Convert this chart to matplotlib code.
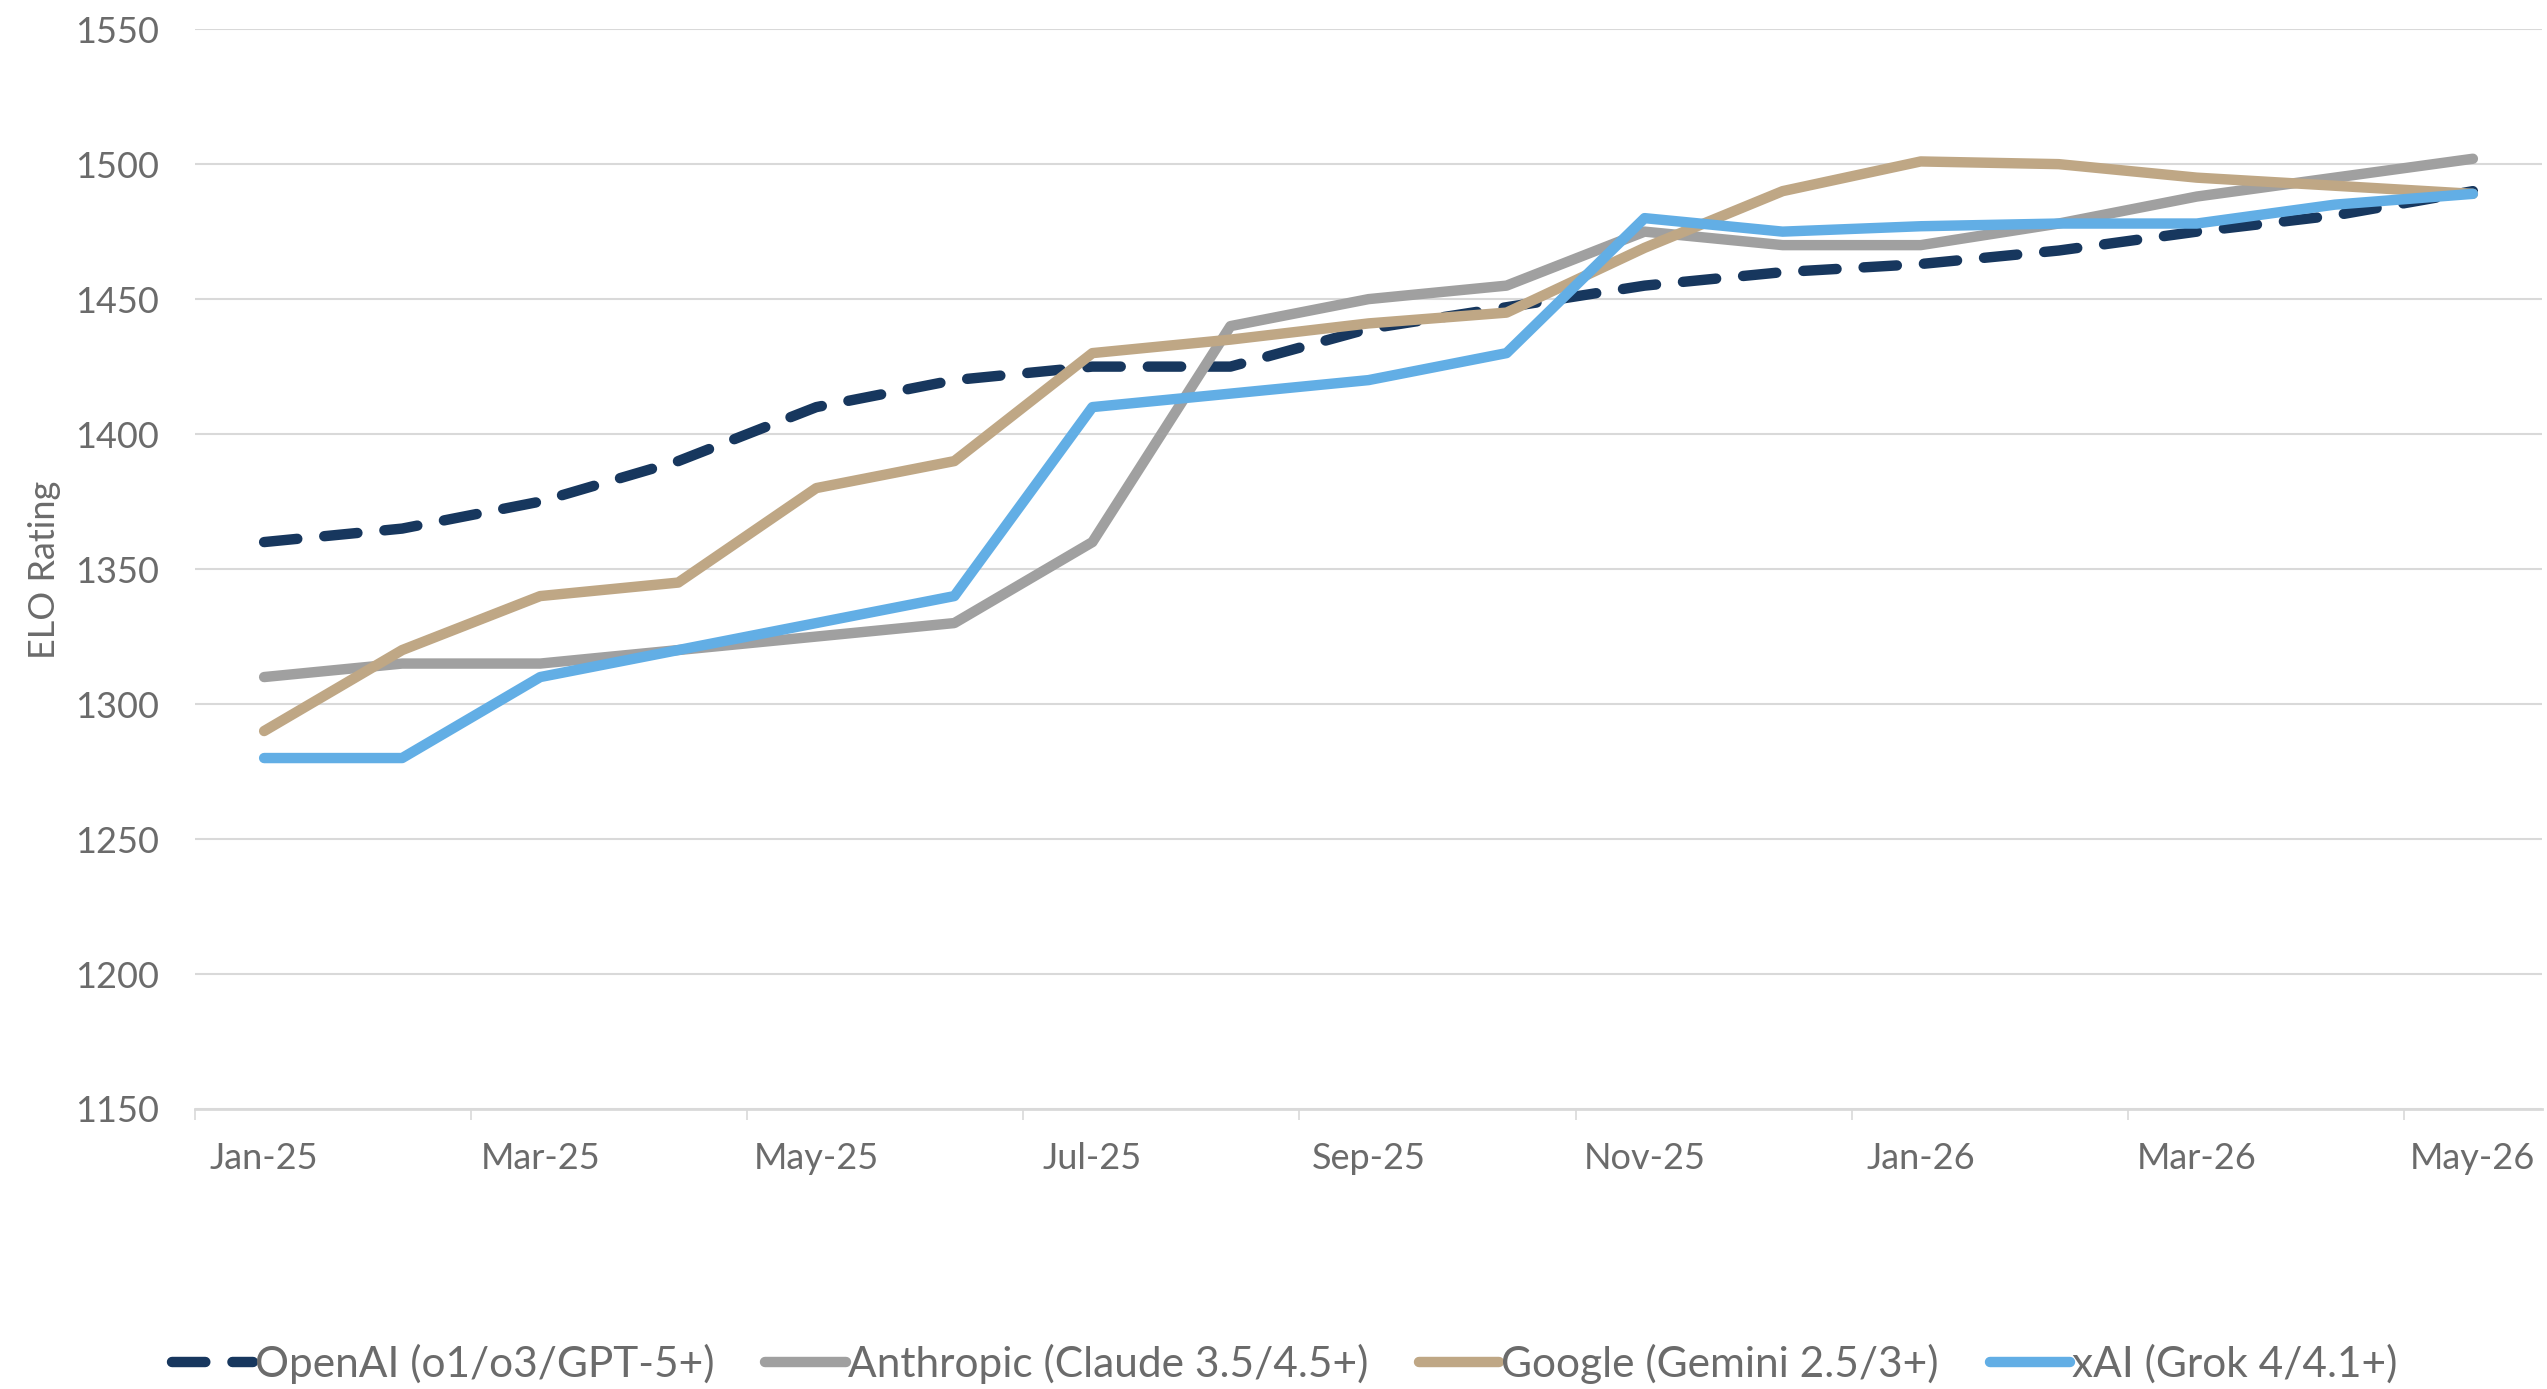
import matplotlib.pyplot as plt
import numpy as np

plt.rcParams['font.family'] = ['Lato', 'DejaVu Sans']

months = ['Jan-25', 'Feb-25', 'Mar-25', 'Apr-25', 'May-25', 'Jun-25', 'Jul-25', 'Aug-25',
          'Sep-25', 'Oct-25', 'Nov-25', 'Dec-25', 'Jan-26', 'Feb-26', 'Mar-26', 'Apr-26', 'May-26']

openai = [1360, 1365, 1375, 1390, 1410, 1420, 1425, 1425, 1439, 1447, 1455, 1460, 1463, 1468, 1475, 1481, 1490]
anthropic = [1310, 1315, 1315, 1320, 1325, 1330, 1360, 1440, 1450, 1455, 1475, 1470, 1470, 1478, 1488, 1495, 1502]
google = [1290, 1320, 1340, 1345, 1380, 1390, 1430, 1435, 1441, 1445, 1469, 1490, 1501, 1500, 1495, 1492, 1489]
xai = [1280, 1280, 1310, 1320, 1330, 1340, 1410, 1415, 1420, 1430, 1480, 1475, 1477, 1478, 1478, 1485, 1489]

series_names = ['OpenAI (o1/o3/GPT-5+)', 'Anthropic (Claude 3.5/4.5+)',
                'Google (Gemini 2.5/3+)', 'xAI (Grok 4/4.1+)']
colors = ['#17375e', '#a0a0a0', '#bfa785', '#62aee5']

text_color = '#6b6b6b'
grid_color = '#d9d9d9'
fs = 26

fig = plt.figure(figsize=(25.47, 13.89), dpi=100)
ax = fig.add_axes([0.0766, 0.2016, 0.9214, 0.7774])

x = np.arange(len(months))
lw = 7.5
ax.plot(x, openai, color=colors[0], lw=lw, linestyle=(0, (3.2, 2.6)),
        dash_capstyle='round', solid_capstyle='round', label=series_names[0], zorder=3)
ax.plot(x, anthropic, color=colors[1], lw=lw, solid_capstyle='round', label=series_names[1], zorder=3)
ax.plot(x, google, color=colors[2], lw=lw, solid_capstyle='round', label=series_names[2], zorder=3)
ax.plot(x, xai, color=colors[3], lw=lw, solid_capstyle='round', label=series_names[3], zorder=3)

ax.set_ylim(1150, 1550)
ax.set_yticks(np.arange(1150, 1551, 50))
ax.set_xlim(-0.5, len(months) - 0.5)

# tick marks between categories, labels on every second month
ax.set_xticks(np.arange(-0.5, len(months) - 1, 2))
ax.set_xticklabels([])
ax.set_xticks(x[::2], minor=True)
ax.set_xticklabels(months[::2], minor=True)
ax.tick_params(axis='x', which='major', length=8, width=1.2, color=grid_color, direction='out')
ax.tick_params(axis='x', which='minor', length=0, pad=24, labelsize=fs, labelcolor=text_color)
ax.tick_params(axis='y', length=0, pad=26, labelsize=fs, labelcolor=text_color)

ax.grid(axis='y', color=grid_color, lw=1.5, zorder=0)
for s in ['top', 'right', 'left']:
    ax.spines[s].set_visible(False)
ax.spines['bottom'].set_color(grid_color)
ax.spines['bottom'].set_linewidth(2)

fig.text(45 / 2547, 0.590, 'ELO Rating', rotation=90, va='center', ha='center',
         fontsize=fs, color=text_color)

fig.legend(loc='center', bbox_to_anchor=(0.5045, 0.018), ncol=4, frameon=False,
           fontsize=30.5, labelcolor=text_color, handlelength=1.9, handletextpad=0.05,
           columnspacing=1.2)

fig.savefig('out.png', dpi=100)
